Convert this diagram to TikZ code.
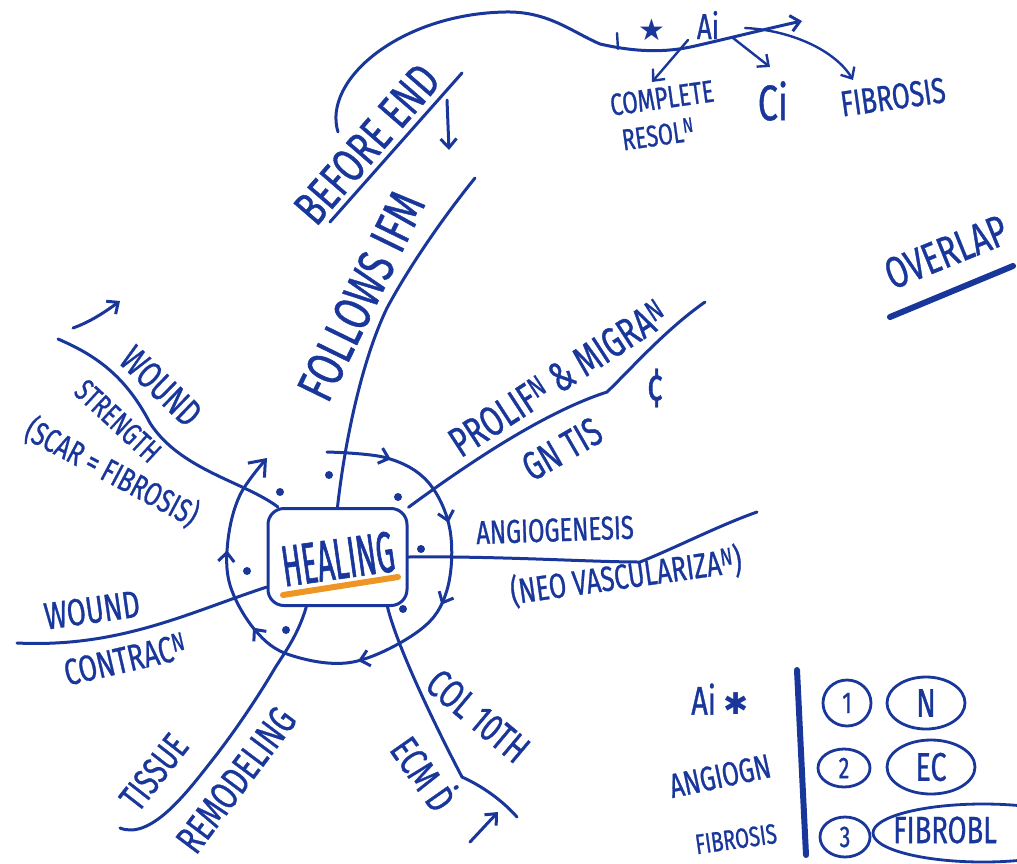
\documentclass[tikz,border=0pt]{standalone}
\usepackage{fontspec}
\setmainfont{Fira Sans}
\newfontfamily\hand[FakeStretch=0.72,FakeBold=0.8]{Fira Sans}
\newfontfamily\handn[FakeStretch=0.5,FakeBold=1]{Fira Sans}
\newfontfamily\symf{DejaVu Sans}
\usetikzlibrary{arrows.meta,shapes.geometric,decorations.markings}
\definecolor{ink}{RGB}{25,55,155}
\definecolor{hl}{RGB}{238,150,35}
\newcommand\fsz[1]{\fontsize{#1}{#1}\selectfont}
\begin{document}
\begin{tikzpicture}[x=1pt,y=-1pt,
  lbl/.style={text=ink,inner sep=0pt},
  branch/.style={draw=ink,line width=3pt,line cap=round,line join=round},
  thinbr/.style={draw=ink,line width=2.4pt,line cap=round,line join=round},
  barb/.style={-{Straight Barb[length=9pt,width=16pt]}},
  dot/.style={circle,fill=ink,inner sep=0pt,minimum size=8pt},
  leg/.style={draw=ink,line width=2.8pt,ellipse,inner sep=0pt,text=ink}]
\useasboundingbox (0,0) rectangle (1017,863);
\fill[white] (0,0) rectangle (1017,863);
\clip (0,0) rectangle (1017,863);

% ---- centre
\node[draw=ink,line width=3pt,rounded corners=16pt,minimum width=139pt,minimum height=97pt] (box) at (337.5,557) {};
\node[lbl,font=\handn\fsz{58},rotate=8] (heal) at (338,559) {HEALING};
\coordinate (u1) at (283,595); \coordinate (u2) at (398,577);
\draw[hl,line width=6pt,line cap=round] (u1) -- (u2);

% dots
\node[dot] (d1) at (329,475) {};
\node[dot] (d2) at (280,492) {};
\node[dot] (d3) at (398,497) {};
\node[dot] (d4) at (421,549) {};
\node[dot] (d5) at (247,571) {};
\node[dot] (d6) at (403,609) {};
\node[dot] (d7) at (286,630) {};

% ring
\draw[branch,-{Straight Barb[length=14pt,width=22pt]},postaction={decorate},
  decoration={markings,
    mark=at position 0.10 with {\arrow{Straight Barb[length=9pt,width=16pt]}},
    mark=at position 0.24 with {\arrow{Straight Barb[length=9pt,width=16pt]}},
    mark=at position 0.37 with {\arrow{Straight Barb[length=9pt,width=16pt]}},
    mark=at position 0.53 with {\arrow{Straight Barb[length=9pt,width=16pt]}},
    mark=at position 0.71 with {\arrow{Straight Barb[length=9pt,width=16pt]}},
    mark=at position 0.84 with {\arrow{Straight Barb[length=9pt,width=16pt]}}}]
  plot[smooth,tension=0.6] coordinates {(327,452) (387,458) (428,482) (450,530) (447,590) (420,630) (353,662) (290,655) (255,630) (230,585) (228,540) (240,495) (267,458)};

% ---- branches
\coordinate (fMid) at (387,308); \coordinate (fEnd) at (475,178);
\draw[branch] (box.north) .. controls (345,440) and (362,360) .. (fMid) .. controls (410,265) and (445,215) .. (fEnd);

\coordinate (pK) at (607,392); \coordinate (pEnd) at (705,302);
\draw[branch] (box.35) .. controls (470,462) and (545,412) .. (pK) .. controls (630,370) and (665,330) .. (pEnd);

\coordinate (aK) at (640,562); \coordinate (aEnd) at (757,512);
\draw[branch] (box.east) .. controls (500,556) and (590,562) .. (aK) .. controls (675,548) and (720,525) .. (aEnd);

\coordinate (eK) at (462,777); \coordinate (eEnd) at (517,817);
\draw[branch] (box.-45) .. controls (398,650) and (440,735) .. (eK) .. controls (482,786) and (502,800) .. (eEnd);

\coordinate (tK) at (275,668); \coordinate (tM) at (210,763); \coordinate (tEnd) at (120,828);
\draw[branch] (box.-122) .. controls (298,635) and (285,652) .. (tK) .. controls (255,702) and (230,738) .. (tM) .. controls (185,795) and (150,840) .. (tEnd);

\coordinate (cEnd) at (17,643);
\draw[branch] (box.203) .. controls (190,612) and (120,648) .. (cEnd);

\coordinate (wK) at (150,423); \coordinate (wEnd) at (58,339);
\draw[branch] (box.140) .. controls (245,482) and (180,470) .. (wK) .. controls (125,375) and (95,355) .. (wEnd);
\coordinate (wa1) at (73,328); \coordinate (wa2) at (120,301);
\draw[branch,barb] (wa1) .. controls (90,322) and (105,312) .. (wa2);

% ---- labels around
\node[lbl,font=\hand\fsz{48},rotate=49] (before) at (367,144) {BEFORE END};
\coordinate (be1) at (330,222); \coordinate (be2) at (462,73);
\draw[branch] (be1) -- (be2);
\coordinate (da1) at (447,100); \coordinate (da2) at (449,150);
\draw[branch,barb] (da1) -- (da2);

\node[lbl,font=\hand\fsz{52},rotate=64] (follows) at (361,296) {FOLLOWS IFM};

\node[lbl,font=\hand\fsz{42},rotate=33] (prolif) at (558,378) {PROLIF\textsuperscript{N} \& MIGRA\textsuperscript{N}};
\node[lbl,font=\hand\fsz{40},rotate=30] (gntis) at (562,449) {GN TIS};
\node[lbl,font=\hand\fsz{46}] (cent) at (655,388) {¢};

\node[lbl,font=\hand\fsz{33},rotate=2] (angio) at (555,530) {ANGIOGENESIS};
\node[lbl,font=\hand\fsz{35},rotate=8] (neo) at (626,576) {(NEO VASCULARIZA\textsuperscript{N})};

\node[lbl,font=\hand\fsz{38},rotate=-44] (wound1) at (161,386) {WOUND};
\node[lbl,font=\hand\fsz{31},rotate=-43] (strength) at (118,421) {STRENGTH};
\node[lbl,font=\hand\fsz{33},rotate=-28] (scar) at (112,472) {(SCAR = FIBROSIS)};

\node[lbl,font=\hand\fsz{38},rotate=8] (wound2) at (92,610) {WOUND};
\node[lbl,font=\hand\fsz{37},rotate=13] (contrac) at (125,659) {CONTRAC\textsuperscript{N}};

\node[lbl,font=\hand\fsz{38},rotate=52] (tissue) at (154,772) {TISSUE};
\node[lbl,font=\hand\fsz{40},rotate=53] (remodel) at (236,780) {REMODELING};

\node[lbl,font=\hand\fsz{40},rotate=-40] (col) at (478,716) {COL 10TH};
\node[lbl,font=\hand\fsz{40},rotate=-55] (ecm) at (426,772) {ECM \.{D}};
\coordinate (ea1) at (470,842); \coordinate (ea2) at (498,812);
\draw[branch,barb] (ea1) -- (ea2);

% ---- top: outcomes
\coordinate (arcS) at (338,132); \coordinate (arcE) at (802,21);
\draw[branch,barb] (arcS) .. controls (322,80) and (400,14) .. (505,12) .. controls (548,11) and (572,32) .. (600,44) .. controls (635,52) and (665,53) .. (695,46) .. controls (730,38) and (770,28) .. (arcE);
\coordinate (tk1) at (617,33); \coordinate (tk2) at (618,49);
\draw[thinbr] (tk1) -- (tk2);
\node[lbl,font=\symf\fsz{30}] (star) at (652,30) {★};
\node[lbl,font=\hand\fsz{36}] (ai) at (708,25) {Ai};

\node[lbl,font=\hand\fsz{31},rotate=8] (complete) at (662,98) {COMPLETE};
\node[lbl,font=\hand\fsz{30},rotate=8] (resol) at (658,134) {RESOL\textsuperscript{N}};
\node[lbl,font=\hand\fsz{50}] (ci) at (773,101) {Ci};
\node[lbl,font=\hand\fsz{36},rotate=8] (fib) at (893,97) {FIBROSIS};
\coordinate (c1s) at (688,40); \coordinate (c1e) at (652,82);
\draw[thinbr,barb] (c1s) -- (c1e);
\coordinate (c2s) at (733,38); \coordinate (c2e) at (770,67);
\draw[thinbr,barb] (c2s) -- (c2e);
\coordinate (c3s) at (745,28); \coordinate (c3e) at (853,80);
\draw[thinbr,barb] (c3s) .. controls (790,30) and (835,50) .. (c3e);

% ---- overlap
\node[lbl,font=\hand\fsz{44},rotate=22] (overlap) at (946,252) {OVERLAP};
\coordinate (ov1) at (890,317); \coordinate (ov2) at (1013,266);
\draw[ink,line width=6pt,line cap=round] (ov1) -- (ov2);

% ---- legend
\node[lbl,font=\hand\fsz{40}] (lai) at (720,699) {Ai {\symf\fsz{30}✱}};
\node[lbl,font=\hand\fsz{34},rotate=12] (lang) at (720,776) {ANGIOGN};
\node[lbl,font=\hand\fsz{28},rotate=8] (lfib) at (736,839) {FIBROSIS};
\coordinate (vl1) at (797,670); \coordinate (vl2) at (806,855);
\draw[ink,line width=6pt,line cap=round] (vl1) -- (vl2);

\node[leg,font=\hand\fsz{30},minimum width=48pt,minimum height=46pt] (n1) at (847,703) {1};
\node[leg,font=\hand\fsz{40},minimum width=78pt,minimum height=52pt] (eN) at (926,703) {N};
\node[leg,font=\hand\fsz{30},minimum width=52pt,minimum height=38pt] (n2) at (844,768) {2};
\node[leg,font=\hand\fsz{40},minimum width=88pt,minimum height=54pt] (eEC) at (931,767) {EC};
\node[leg,font=\hand\fsz{30},minimum width=50pt,minimum height=40pt] (n3) at (845,837) {3};
\node[leg,minimum width=220pt,minimum height=58pt] (eF) at (983,833) {};
\node[lbl,font=\hand\fsz{38},anchor=west] (fibro) at (893,830) {FIBROBL};
\end{tikzpicture}
\end{document}
